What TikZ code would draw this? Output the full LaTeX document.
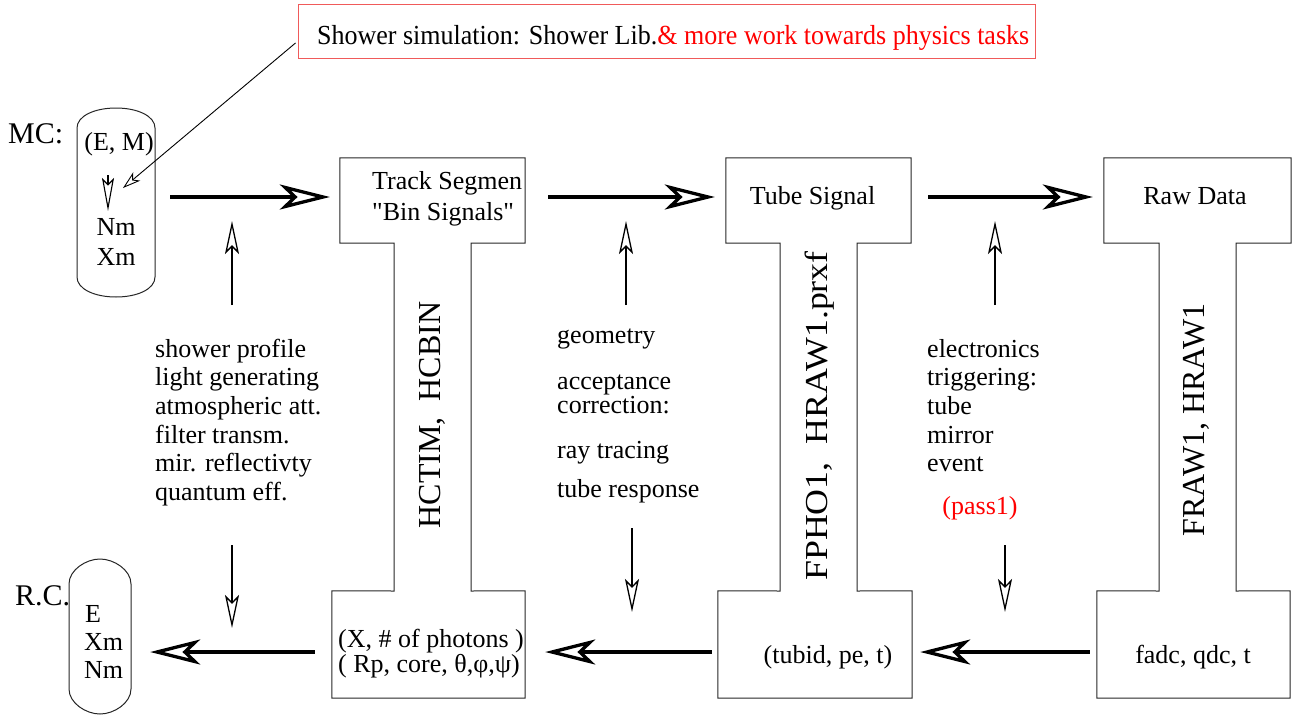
\documentclass[tikz,border=0pt]{standalone}
\usepackage{fontspec}
\setmainfont{Liberation Serif}
\newfontfamily\rawserif{Liberation Serif}
\usetikzlibrary{arrows.meta,calc}
\definecolor{boxred}{RGB}{240,90,90}
\tikzset{
  txt/.style={inner sep=0pt, font=\fontsize{26}{29}\selectfont},
  big/.style={inner sep=0pt, font=\fontsize{30}{34}\selectfont},
  vtxt/.style={inner sep=0pt, font=\fontsize{32}{36}\selectfont, rotate=90},
  frame/.style={draw=none, inner sep=0pt},
  outline/.style={draw=black!85, line width=1pt},
  bigarrow/.style={line width=3.3pt, -{Stealth[open, length=50pt, width=25pt, inset=13pt]}},
  thinarrow/.style={line width=1.3pt, -{Stealth[open, length=33pt, width=14pt, inset=7pt]}},
  ptrarrow/.style={line width=0.9pt, -{Stealth[open, length=18pt, width=11pt, inset=5pt]}},
}
\begin{document}
\begin{tikzpicture}[x=1pt,y=-1pt]
\useasboundingbox (0,0) rectangle (1292,715);
% reference rows
\coordinate (rowT) at (0,197);
\coordinate (rowB) at (0,652);

% ---- top red box
\node[frame, draw=boxred, line width=1pt, minimum width=737pt, minimum height=54pt] (simbox) at (666.5,31) {};
\node[txt, anchor=base west] (simtxt) at (317,44) {\scalebox{1.0}[1.06]{Shower simulation: Shower Lib.\textcolor{red}{\& more work towards physics tasks}}};

% ---- MC capsule
\node[frame, minimum width=78pt, minimum height=189pt] (mc) at (116,202.5) {};
\draw[outline] (77,128) .. controls (77,116) and (94.5,108) .. (116,108)
  .. controls (137.5,108) and (155,116) .. (155,128) -- (155,277)
  .. controls (155,289) and (137.5,297) .. (116,297)
  .. controls (94.5,297) and (77,289) .. (77,277) -- cycle;
\node[big, anchor=base west] (mclabel) at (8,143) {MC:};
\node[txt, anchor=base] (em) at (119,150) {(E, M)};
\node[txt, anchor=base] (nm) at (116,235) {Nm};
\node[txt, anchor=base] (xm) at (116,265) {Xm};
\coordinate (mcA) at (108,175);
\coordinate (mcB) at (108,211);
\draw[line width=1.1pt, -{Stealth[open, length=33pt, width=12pt, inset=6pt]}] (mcA) -- (mcB);
\coordinate (mcT) at (123,188);
\draw[ptrarrow] ($(simbox.west)+(-2,12)$) -- (mcT);

% ---- R.C. capsule
\node[frame, minimum width=62pt, minimum height=155pt] (rc) at (100,636.5) {};
\draw[outline] (69,584) .. controls (69,570) and (86,559) .. (100,559)
  .. controls (114,559) and (131,570) .. (131,584) -- (131,689)
  .. controls (131,703) and (114,714) .. (100,714)
  .. controls (86,714) and (69,703) .. (69,689) -- cycle;
\node[big, anchor=base west] (rclabel) at (15,605) {R.C.};
\node[txt, anchor=base west] (re) at (85,622) {E};
\node[txt, anchor=base west] (rx) at (84,650) {Xm};
\node[txt, anchor=base west] (rn) at (84,678) {Nm};

% ---- I-shaped boxes
\node[frame, minimum width=185pt, minimum height=85pt] (t1) at (432.5,200.5) {};
\node[frame, minimum width=193pt, minimum height=107pt] (b1) at (428.5,644.5) {};
\node[frame, minimum width=185pt, minimum height=85pt] (t2) at (818.5,200.5) {};
\node[frame, minimum width=194pt, minimum height=107pt] (b2) at (815,644.5) {};
\node[frame, minimum width=187pt, minimum height=85pt] (t3) at (1197.5,200.5) {};
\node[frame, minimum width=193pt, minimum height=107pt] (b3) at (1193.5,644.5) {};

\draw[outline] (t1.north west) -- (t1.north east) -- (t1.south east) -- (471,243) -- (471,591)
  -- (b1.north east) -- (b1.south east) -- (b1.south west) -- (b1.north west)
  -- (394,591) -- (394,243) -- (t1.south west) -- cycle;
\draw[outline] (t2.north west) -- (t2.north east) -- (t2.south east) -- (857,243) -- (857,591)
  -- (b2.north east) -- (b2.south east) -- (b2.south west) -- (b2.north west)
  -- (780,591) -- (780,243) -- (t2.south west) -- cycle;
\draw[outline] (t3.north west) -- (t3.north east) -- (t3.south east) -- (1236,243) -- (1236,591)
  -- (b3.north east) -- (b3.south east) -- (b3.south west) -- (b3.north west)
  -- (1159,591) -- (1159,243) -- (t3.south west) -- cycle;

% box texts
\node[txt, anchor=base west] (t1a) at (372,189) {Track Segmen};
\node[txt, anchor=base west] (t1b) at (372,220) {{\rawserif"}Bin Signals{\rawserif"}};
\node[txt, anchor=base] (t2a) at (812.5,204) {Tube Signal};
\node[txt, anchor=base] (t3a) at (1195,204) {Raw Data};
\node[txt, anchor=base west] (b1a) at (338,647) {(X, \# of photons )};
\node[txt, anchor=base west] (b1b) at (338,672) {( Rp, core, θ,φ,ψ)};
\node[txt, anchor=base] (b2a) at (828,663) {(tubid, pe, t)};
\node[txt, anchor=base] (b3a) at (1193,663) {fadc, qdc, t};

% vertical texts
\node[vtxt] (v1) at (432,415) {HCTIM,\ \ HCBIN};
\node[vtxt] (v2) at (820,416) {\scalebox{1.12}[1]{FPHO1,\ \ HRAW1.prxf}};
\node[vtxt] (v3) at (1196,420) {FRAW1, HRAW1};

% ---- side text blocks
\foreach \t [count=\i] in {shower profile, light generating, atmospheric att., filter transm., mir. reflectivty, quantum eff.}
  \node[txt, anchor=base west] (sa\i) at (155,{357+28.7*(\i-1)}) {\t};
\node[txt, anchor=base west] (sb1) at (557,343) {geometry};
\node[txt, anchor=base west] (sb2) at (557,389) {acceptance};
\node[txt, anchor=base west] (sb3) at (557,413) {correction:};
\node[txt, anchor=base west] (sb4) at (557,458) {ray tracing};
\node[txt, anchor=base west] (sb5) at (557,497) {tube response};
\foreach \t [count=\i] in {electronics, triggering:, tube, mirror, event}
  \node[txt, anchor=base west] (sc\i) at (927,{357+28.7*(\i-1)}) {\t};
\node[txt, anchor=base, text=red] (pass) at (980,514) {(pass1)};

% ---- main thick arrows
\draw[bigarrow] ($(mc.east |- rowT)+(15,0)$) -- ($(t1.west |- rowT)+(-10,0)$);
\draw[bigarrow] ($(t1.east |- rowT)+(23,0)$) -- ($(t2.west |- rowT)+(-11,0)$);
\draw[bigarrow] ($(t2.east |- rowT)+(17,0)$) -- ($(t3.west |- rowT)+(-11,0)$);
\draw[bigarrow] ($(b3.west |- rowB)+(-7,0)$) -- ($(b2.east |- rowB)+(8,0)$);
\draw[bigarrow] ($(b2.west |- rowB)+(-6,0)$) -- ($(b1.east |- rowB)+(20,0)$);
\draw[bigarrow] ($(b1.west |- rowB)+(-17,0)$) -- ($(rc.east |- rowB)+(19,0)$);

% ---- thin arrows
\coordinate (u1s) at (232,305); \coordinate (u1e) at (232,221);
\coordinate (u2s) at (626,305); \coordinate (u2e) at (626,221);
\coordinate (u3s) at (995,305); \coordinate (u3e) at (995,221);
\coordinate (d1s) at (232,545); \coordinate (d1e) at (232,628);
\coordinate (d2s) at (632,528); \coordinate (d2e) at (632,612);
\coordinate (d3s) at (1005,545); \coordinate (d3e) at (1005,612);
\draw[thinarrow] (u1s) -- (u1e);
\draw[thinarrow] (u2s) -- (u2e);
\draw[thinarrow] (u3s) -- (u3e);
\draw[thinarrow] (d1s) -- (d1e);
\draw[thinarrow] (d2s) -- (d2e);
\draw[thinarrow] (d3s) -- (d3e);
\end{tikzpicture}
\end{document}
